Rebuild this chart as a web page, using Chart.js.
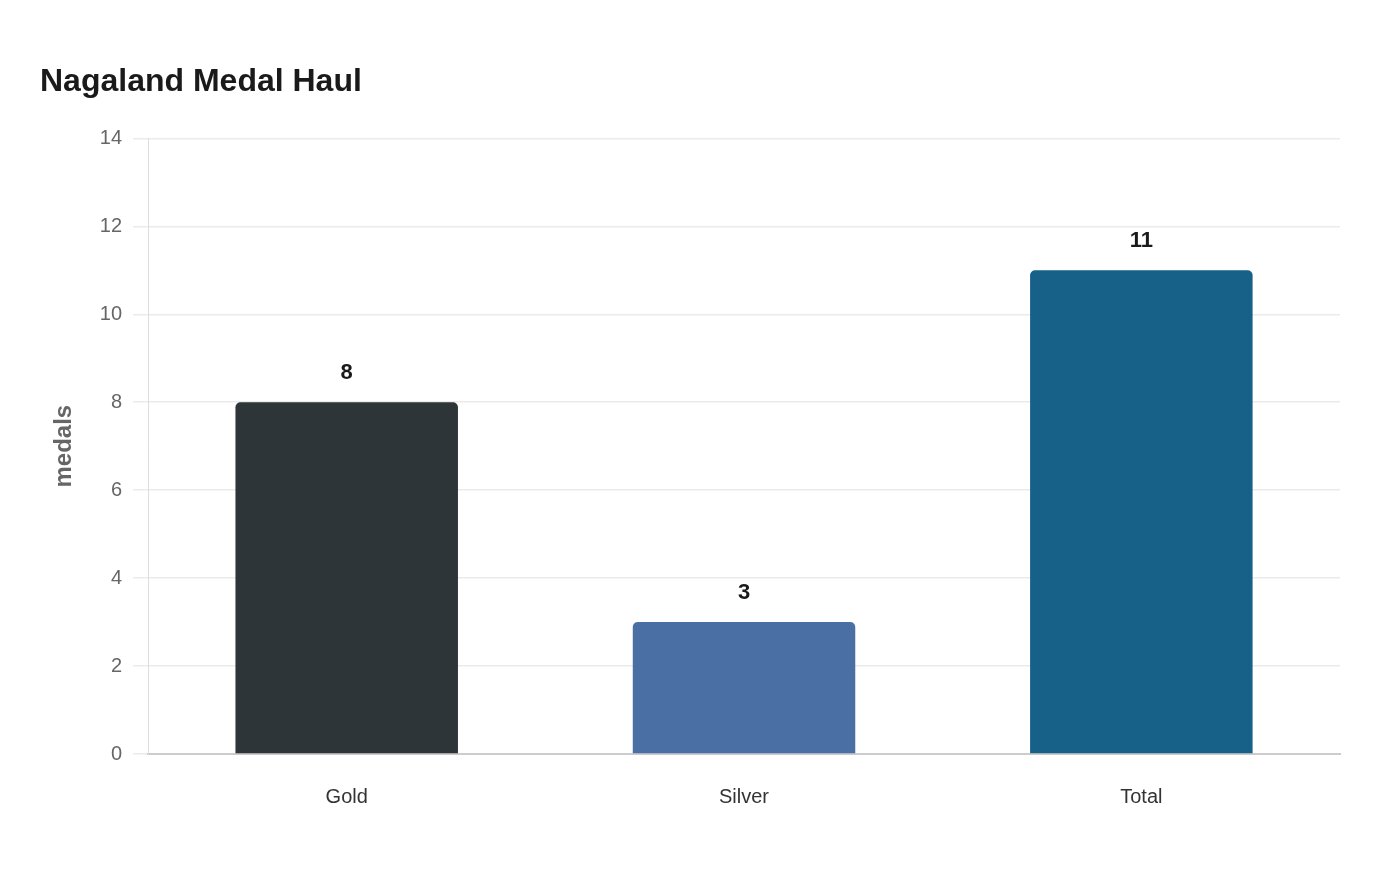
<!DOCTYPE html>
<html>
<head>
<meta charset="utf-8">
<script src="https://cdn.jsdelivr.net/npm/chart.js@4/dist/chart.umd.min.js"></script>
<style>
html,body{margin:0;padding:0;background:#fff;}
#wrap{width:1400px;height:880px;}
</style>
</head>
<body>
<div id="wrap"><canvas id="c" width="1400" height="880"></canvas></div>
<script>
const categories = ["Gold", "Silver", "Total"];
const medals = [8, 3, 11];
const barColors = ["#2e3538", "#4a6fa5", "#176087"];
const yTicks = [0, 2, 4, 6, 8, 10, 12, 14];

const FONT = '"Liberation Sans", Arial, sans-serif';

const valueLabels = {
  id: 'valueLabels',
  afterDatasetsDraw(chart) {
    const ctx = chart.ctx;
    const meta = chart.getDatasetMeta(0);
    ctx.save();
    ctx.font = 'bold 22px ' + FONT;
    ctx.fillStyle = '#1a1a1a';
    ctx.textAlign = 'center';
    ctx.textBaseline = 'middle';
    meta.data.forEach((bar, i) => {
      ctx.fillText(String(medals[i]), bar.x, bar.y - 29);
    });
    ctx.restore();
  }
};

new Chart(document.getElementById('c'), {
  type: 'bar',
  data: {
    labels: categories,
    datasets: [{
      data: medals,
      backgroundColor: barColors,
      borderRadius: {topLeft: 5, topRight: 5, bottomLeft: 0, bottomRight: 0},
      borderSkipped: false,
      barPercentage: 0.7,
      categoryPercentage: 0.8
    }]
  },
  options: {
    responsive: false,
    animation: false,
    devicePixelRatio: 1,
    layout: {padding: {left: 40, right: 60, top: 63, bottom: 48}},
    plugins: {
      legend: {display: false},
      tooltip: {enabled: false},
      title: {
        display: true,
        text: 'Nagaland Medal Haul',
        align: 'start',
        color: '#1a1a1a',
        font: {family: FONT, size: 32, weight: 'bold'},
        padding: {top: 0, bottom: 37}
      }
    },
    scales: {
      x: {
        grid: {display: false},
        border: {color: '#cccccc', width: 2},
        ticks: {color: '#333333', font: {family: FONT, size: 20}, padding: 23}
      },
      y: {
        min: 0, max: 14,
        afterBuildTicks(axis) { axis.ticks = yTicks.map(v => ({value: v})); },
        grid: {color: '#ebebeb', lineWidth: 1.5, tickLength: 15},
        border: {color: '#dddddd', width: 1},
        ticks: {color: '#666666', font: {family: FONT, size: 20}, padding: 11},
        title: {
          display: true, text: 'medals', color: '#666666',
          font: {family: FONT, size: 24, weight: 'bold'},
          padding: {top: 10, bottom: 10}
        }
      }
    }
  },
  plugins: [valueLabels]
});
</script>
</body>
</html>
